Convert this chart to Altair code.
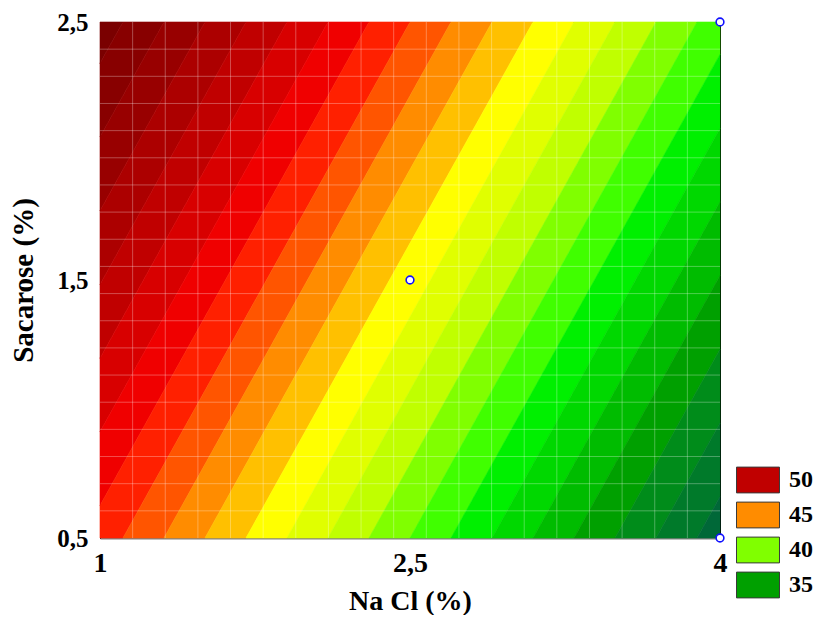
import numpy as np
import pandas as pd
import altair as alt

# ---- values ----
nacl_ticks = [1, 2.5, 4]
sac_ticks = [0.5, 1.5, 2.5]

# contour band centre values (high -> low) and their colours
band_levels = [54, 53, 52, 51, 50, 49, 48, 47, 46, 45, 44, 43,
               42, 41, 40, 39, 38, 37, 36, 35, 34, 33, 32]
band_colors = ["#7A0000", "#880000", "#980000", "#AC0000", "#C00000", "#D80000",
               "#F00000", "#FF2000", "#FF5500", "#FF8C00", "#FFC000", "#FFFF00",
               "#E0FF00", "#C0FF00", "#80FF00", "#40FF00", "#00F000", "#00D800",
               "#00BC00", "#00A000", "#008C1A", "#007A2A", "#006838"]

# fitted planar surface
z_center = 43.0
x_center = 2.5
y_center = 1.5
slope_nacl = -5.04
slope_sac = 3.5

# experimental design points
design_x = [2.5, 4, 4]
design_y = [1.5, 0.5, 2.5]

legend_labels = ["50", "45", "40", "35"]
legend_colors = ["#C00000", "#FF8C00", "#80FF00", "#00A000"]

X0, X1 = 1.0, 4.0
Y0, Y1 = 0.5, 2.5


def yline(z, x):
    return y_center + (z - z_center - slope_nacl * (x - x_center)) / slope_sac


def xline(z, y):
    return x_center + (z - z_center - slope_sac * (y - y_center)) / slope_nacl


rows = []
for i, (v, col) in enumerate(zip(band_levels, band_colors)):
    zl, zh = v - 0.5, v + 0.5
    xa = max(X0, xline(zh, Y0))
    xb = min(X1, xline(zl, Y1))
    if xa >= xb:
        continue
    xs = {xa, xb}
    for cand in (xline(zl, Y0), xline(zh, Y1)):
        if xa < cand < xb:
            xs.add(cand)
    for x in sorted(xs):
        lo = float(np.clip(yline(zl, x), Y0, Y1))
        hi = float(np.clip(yline(zh, x), Y0, Y1))
        rows.append({"band": i, "x": x, "y": lo, "y2": hi, "color": col})
bands_df = pd.DataFrame(rows)

grid_x = pd.DataFrame({"gx": [X0 + (X1 - X0) * k / 19 for k in range(1, 19)]})
grid_y = pd.DataFrame({"gy": [Y0 + (Y1 - Y0) * k / 19 for k in range(1, 19)]})
pts_df = pd.DataFrame({"x": design_x, "y": design_y})
leg_df = pd.DataFrame({"label": legend_labels, "x": [2.5] * 4, "y": [1.5] * 4})

FONT = "Liberation Serif"

xscale = alt.Scale(domain=[X0, X1], nice=False, zero=False)
yscale = alt.Scale(domain=[Y0, Y1], nice=False, zero=False)

xaxis = alt.Axis(values=nacl_ticks, title="Na Cl (%)", grid=False, ticks=False,
                 labelExpr="replace(format(datum.value, '.2~f'), '.', ',')",
                 labelFont=FONT, labelFontSize=28, labelFontWeight="bold",
                 labelColor="black", labelPadding=11, labelFlush=False,
                 titleFont=FONT, titleFontSize=28, titleFontWeight="bold",
                 titleColor="black", titlePadding=10,
                 domainColor="#808080", domainWidth=2)
yaxis = alt.Axis(values=sac_ticks, title="Sacarose (%)", grid=False, ticks=False,
                 labelExpr="replace(format(datum.value, '.1f'), '.', ',')",
                 labelFont=FONT, labelFontSize=25, labelFontWeight="bold",
                 labelColor="black", labelPadding=12, labelFlush=False,
                 titleFont=FONT, titleFontSize=29, titleFontWeight="bold",
                 titleColor="black", titlePadding=18,
                 domainColor="black", domainWidth=1)

bands = alt.Chart(bands_df).mark_area(strokeWidth=0.6, opacity=1, orient="vertical").encode(
    x=alt.X("x:Q", scale=xscale, axis=xaxis),
    y=alt.Y("y:Q", scale=yscale, axis=yaxis, stack=None),
    y2="y2:Q",
    fill=alt.Fill("color:N", scale=None),
    stroke=alt.Stroke("color:N", scale=None),
    detail="band:N",
)

vgrid = alt.Chart(grid_x).mark_rule(color="white", opacity=0.3, strokeWidth=1).encode(
    x=alt.X("gx:Q", scale=xscale))
hgrid = alt.Chart(grid_y).mark_rule(color="white", opacity=0.3, strokeWidth=1).encode(
    y=alt.Y("gy:Q", scale=yscale))

points = alt.Chart(pts_df).mark_point(shape="circle", filled=True, fill="white",
                                      stroke="#1010FF", strokeWidth=1.6, size=60,
                                      opacity=1, clip=False).encode(
    x=alt.X("x:Q", scale=xscale), y=alt.Y("y:Q", scale=yscale))

legend_layer = alt.Chart(leg_df).mark_square(opacity=0, size=1).encode(
    x=alt.X("x:Q", scale=xscale), y=alt.Y("y:Q", scale=yscale),
    color=alt.Color("label:N",
                    scale=alt.Scale(domain=legend_labels, range=legend_colors),
                    legend=alt.Legend(title=None, orient="none", legendX=646, legendY=446,
                                      symbolType="M-2,-1.2H2V1.2H-2Z", symbolSize=462,
                                      symbolStrokeColor="#3a3a3a", symbolStrokeWidth=1,
                                      symbolOpacity=1, labelFont=FONT, labelFontSize=24,
                                      labelFontWeight="bold", labelColor="black",
                                      labelOffset=19, rowPadding=5)),
)

chart = alt.layer(bands, vgrid, hgrid, points, legend_layer).properties(
    width=620, height=516,
    autosize=alt.AutoSizeParams(type="none"),
    padding={"left": 92, "top": 14, "right": 100, "bottom": 77},
).configure_view(stroke="black", strokeWidth=1)

chart.save("out.html", embed_options={"renderer": "svg", "actions": False})
